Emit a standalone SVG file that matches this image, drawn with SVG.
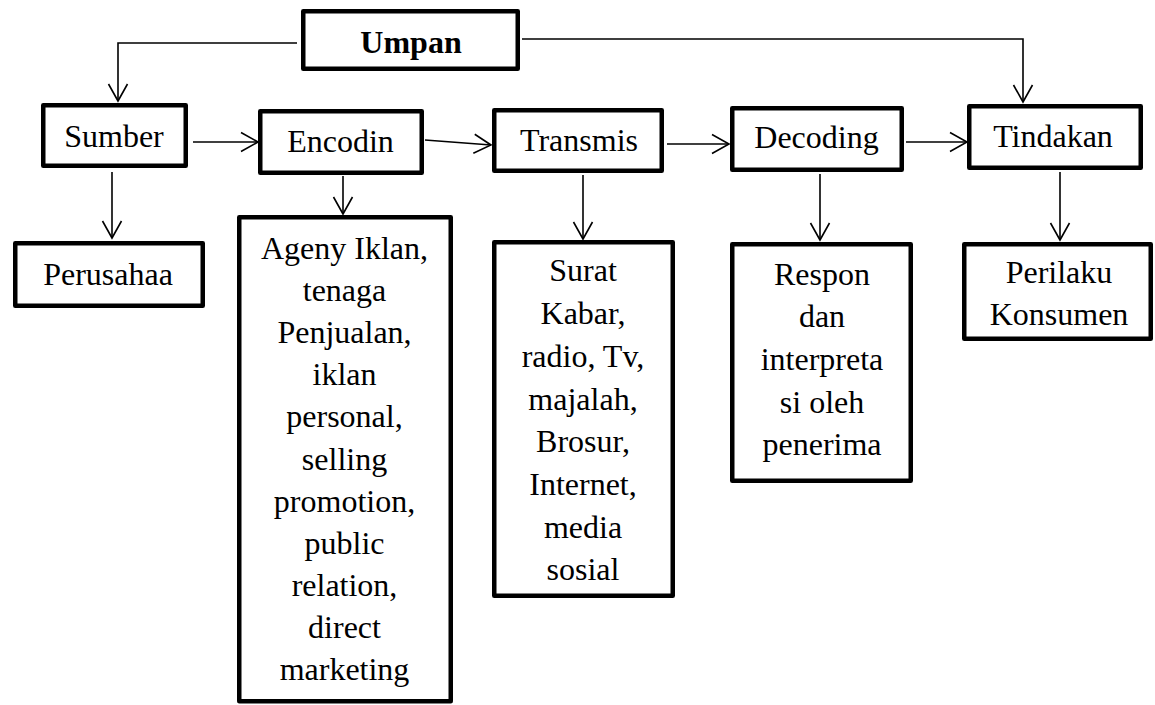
<svg xmlns="http://www.w3.org/2000/svg" width="1155" height="705" viewBox="0 0 1155 705">
<style>
.box{fill:#fff;stroke:#000;stroke-width:4.5;stroke-linejoin:round}
.t{font-family:"Liberation Serif","Times New Roman",serif;font-size:32px;fill:#000;text-anchor:middle}
.b{font-weight:bold}
.c{fill:none;stroke:#000;stroke-width:1.6}
</style>
<defs>
<marker id="ah" markerUnits="userSpaceOnUse" markerWidth="40" markerHeight="40" viewBox="-20 -20 40 40" refX="0" refY="0" orient="auto">
<path d="M-17,-9.5 L0,0 L-17,9.5" fill="none" stroke="#000" stroke-width="1.6"/>
</marker>
</defs>
<rect width="1155" height="705" fill="#fff"/>
<g id="connectors">
<polyline class="c" points="297,43 118,43 118,101" marker-end="url(#ah)"/>
<polyline class="c" points="522,39 1023,39 1023,102" marker-end="url(#ah)"/>
<line class="c" x1="193" y1="142" x2="258" y2="142" marker-end="url(#ah)"/>
<line class="c" x1="425" y1="140" x2="491" y2="145" marker-end="url(#ah)"/>
<line class="c" x1="667" y1="144" x2="729" y2="144" marker-end="url(#ah)"/>
<line class="c" x1="906" y1="142" x2="967" y2="142" marker-end="url(#ah)"/>
<line class="c" x1="112" y1="172" x2="112" y2="238" marker-end="url(#ah)"/>
<line class="c" x1="343" y1="176" x2="343" y2="214" marker-end="url(#ah)"/>
<line class="c" x1="583" y1="175" x2="583" y2="239" marker-end="url(#ah)"/>
<line class="c" x1="820" y1="174" x2="820" y2="240" marker-end="url(#ah)"/>
<line class="c" x1="1060" y1="172" x2="1060" y2="240" marker-end="url(#ah)"/>
</g>
<g id="umpan">
<rect class="box" x="303.25" y="11.25" width="214.5" height="57.5"/>
<text class="t b" x="411" y="53">Umpan</text>
</g>
<g id="sumber">
<rect class="box" x="43.25" y="105.25" width="142.5" height="60.5"/>
<text class="t" x="114" y="147">Sumber</text>
</g>
<g id="encodin">
<rect class="box" x="260.25" y="111.25" width="161.5" height="61.5"/>
<text class="t" x="340.5" y="152">Encodin</text>
</g>
<g id="transmis">
<rect class="box" x="494.25" y="110.25" width="167.5" height="60.5"/>
<text class="t" x="579" y="151">Transmis</text>
</g>
<g id="decoding">
<rect class="box" x="732.25" y="108.25" width="169.5" height="61.5"/>
<text class="t" x="816.5" y="148">Decoding</text>
</g>
<g id="tindakan">
<rect class="box" x="969.25" y="106.25" width="171.5" height="61.5"/>
<text class="t" x="1053" y="147">Tindakan</text>
</g>
<g id="perusahaa">
<rect class="box" x="15.25" y="243.25" width="187.5" height="62.5"/>
<text class="t" x="108" y="285">Perusahaa</text>
</g>
<g id="encodin-detail">
<rect class="box" x="239.25" y="217.25" width="211.5" height="484"/>
<text class="t" x="344.5" y="259">Ageny Iklan,</text>
<text class="t" x="344.5" y="301">tenaga</text>
<text class="t" x="344.5" y="343">Penjualan,</text>
<text class="t" x="344.5" y="385">iklan</text>
<text class="t" x="344.5" y="427">personal,</text>
<text class="t" x="344.5" y="470">selling</text>
<text class="t" x="344.5" y="512">promotion,</text>
<text class="t" x="344.5" y="554">public</text>
<text class="t" x="344.5" y="596">relation,</text>
<text class="t" x="344.5" y="638">direct</text>
<text class="t" x="344.5" y="680">marketing</text>
</g>
<g id="transmis-detail">
<rect class="box" x="494.25" y="242.25" width="178.5" height="353.5"/>
<text class="t" x="583" y="281">Surat</text>
<text class="t" x="583" y="324">Kabar,</text>
<text class="t" x="583" y="367">radio, Tv,</text>
<text class="t" x="583" y="410">majalah,</text>
<text class="t" x="583" y="452">Brosur,</text>
<text class="t" x="583" y="495">Internet,</text>
<text class="t" x="583" y="538">media</text>
<text class="t" x="583" y="580">sosial</text>
</g>
<g id="decoding-detail">
<rect class="box" x="732.25" y="244.25" width="178.5" height="236.5"/>
<text class="t" x="822" y="285">Respon</text>
<text class="t" x="822" y="327">dan</text>
<text class="t" x="822" y="370">interpreta</text>
<text class="t" x="822" y="413">si oleh</text>
<text class="t" x="822" y="455">penerima</text>
</g>
<g id="tindakan-detail">
<rect class="box" x="964.25" y="244.25" width="186.5" height="94.5"/>
<text class="t" x="1059" y="283">Perilaku</text>
<text class="t" x="1059" y="325">Konsumen</text>
</g>
</svg>
